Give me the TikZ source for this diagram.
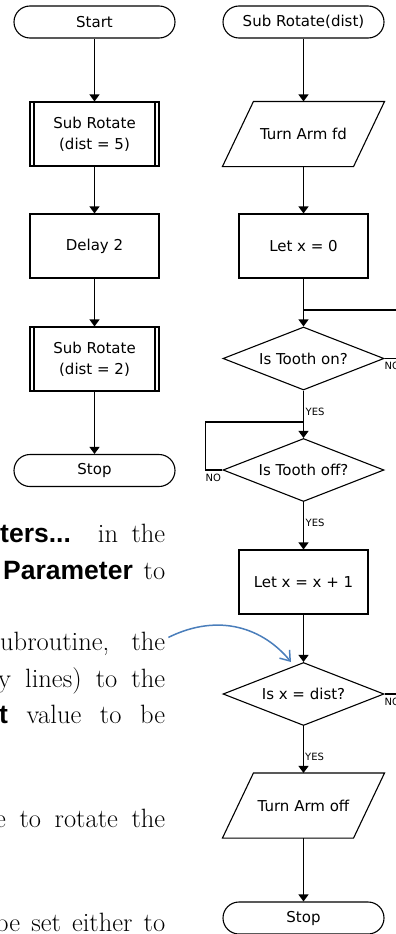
\documentclass[tikz,border=0pt]{standalone}
\usepackage{fontspec}
\usepackage{tikz}
\usetikzlibrary{arrows.meta, shapes.geometric}
\usepackage{xcolor}
\newfontfamily\chartfont{DejaVu Sans}
\newfontfamily\headsans{Liberation Sans}
\definecolor{noteblue}{RGB}{74,126,187}
\tikzset{
  chart/.style  ={font=\chartfont\fontsize{15}{21}\selectfont, line width=1.1pt,
                  inner sep=0pt, align=center},
  term/.style   ={chart, draw, rectangle, rounded corners=16pt,
                  minimum width=161pt, minimum height=32pt},
  proc/.style   ={chart, draw, rectangle, minimum width=129pt, minimum height=64pt},
  subproc/.style={proc, path picture={
                  \draw[line width=1.1pt]
                    ([xshift=4pt]path picture bounding box.north west) --
                    ([xshift=4pt]path picture bounding box.south west)
                    ([xshift=-4pt]path picture bounding box.north east) --
                    ([xshift=-4pt]path picture bounding box.south east);}},
  % parallelogram: body 130 wide, slanted 31 over its height
  io/.style     ={chart, rectangle, minimum width=130pt, minimum height=64pt,
                  append after command={\pgfextra{
                  \draw[line width=1.1pt]
                    ([xshift=-15.5pt]\tikzlastnode.south west) --
                    ([xshift=15.5pt]\tikzlastnode.north west) --
                    ([xshift=15.5pt]\tikzlastnode.north east) --
                    ([xshift=-15.5pt]\tikzlastnode.south east) -- cycle;}}},
  dec/.style    ={chart, draw, diamond, aspect=2.55,
                  minimum width=161pt, minimum height=63pt},
  flow/.style   ={-{Triangle[length=7pt, width=10pt]}, line width=1.1pt},
  wire/.style   ={line width=1.1pt},
  yn/.style     ={font=\chartfont\fontsize{10}{12}\selectfont, inner sep=0pt,
                  anchor=west},
  body/.style   ={font=\fontsize{26.5}{32}\selectfont, inner sep=0pt,
                  anchor=base west},
  note/.style   ={-{Straight Barb[length=9pt, width=13pt]}, line width=1.5pt,
                  noteblue},
}
\newcommand{\kwd}[1]{{\headsans\bfseries\fontsize{26.5}{32}\selectfont #1}}

\begin{document}
\begin{tikzpicture}[x=1pt, y=-1pt]
  \useasboundingbox (0,0) rectangle (396,934);
  % main program
  \node[term]    (start)  at (94.5,22)    {Start};
  \node[subproc] (sub5)   at (94.5,134)   {Sub Rotate\\(dist = 5)};
  \node[proc]    (delay)  at (94.5,246)   {Delay 2};
  \node[subproc] (sub2)   at (94.5,359)   {Sub Rotate\\(dist = 2)};
  \node[term]    (stopA)  at (94.5,470.5) {Stop};
  \draw[flow] (start) -- (sub5);
  \draw[flow] (sub5) -- (delay);
  \draw[flow] (delay) -- (sub2);
  \draw[flow] (sub2) -- (stopA);

  % subroutine
  \node[term]  (subr)     at (303.5,22)    {Sub Rotate(dist)};
  \node[io]    (armfd)    at (303.5,134)   {Turn Arm fd};
  \node[proc]  (xzero)    at (303.5,246)   {Let x = 0};
  \node[dec]   (toothon)  at (303.5,358.5) {Is Tooth on?};
  \node[dec]   (toothoff) at (303.5,470)   {Is Tooth off?};
  \node[proc]  (xinc)     at (303.5,582)   {Let x = x + 1};
  \node[dec]   (xdist)    at (303.5,694)   {Is x = dist?};
  \node[io]    (armoff)   at (303.5,805.5) {Turn Arm off};
  \node[term]  (stopB)    at (303.5,918)   {Stop};

  \coordinate (onjoin)   at (303.5,310);
  \coordinate (loopin)   at (396,310);
  \coordinate (onexit)   at (396,358.5);
  \coordinate (offjoin)  at (303.5,422);
  \coordinate (distexit) at (396,694);

  \draw[flow] (subr) -- (armfd);
  \draw[flow] (armfd) -- (xzero);
  \draw[flow] (xzero) -- (toothon);
  \draw[wire] (loopin) -- (onjoin);
  \draw[wire] (toothon.east) -- (onexit);
  \draw[flow] (toothon) -- (toothoff);
  \draw[wire] (toothoff.west) -- ++(-17,0) |- (offjoin);
  \draw[flow] (toothoff) -- (xinc);
  \draw[flow] (xinc) -- (xdist);
  \draw[wire] (xdist.east) -- (distexit);
  \draw[flow] (xdist) -- (armoff);
  \draw[flow] (armoff) -- (stopB);

  \node[yn] (noA)  at (384.5,366)   {NO};
  \node[yn] (yesA) at (305.5,411.5) {YES};
  \node[yn] (noB)  at (205.5,478)   {NO};
  \node[yn] (yesB) at (305.5,523)   {YES};
  \node[yn] (noC)  at (384.5,702)   {NO};
  \node[yn] (yesC) at (305,757)     {YES};

  % text column, cut at the left edge
  \node[body] (t1) at (0,542)  {\makebox[165pt][s]{\kwd{ters...} in the}};
  \node[body] (t2) at (3,579)  {\makebox[162pt][s]{\kwd{Parameter} to}};
  \node[body] (t3) at (0,650)  {\makebox[165pt][s]{ubroutine, the}};
  \node[body] (t4) at (-2,687) {\makebox[167pt][s]{y lines) to the}};
  \node[body] (t5) at (-1,723) {\makebox[166pt][s]{\kwd{t} value to be}};
  \node[body] (t6) at (-5,827) {\makebox[170pt][s]{e to rotate the}};
  \node[body] (t7) at (-5,931) {\makebox[170pt][s]{be set either to}};

  % pointer to the decision
  \coordinate (tip) at (291,662);
  \draw[note] ([shift={(3,-6)}]t3.east) .. controls (220,612) and (264,629) .. (tip);
\end{tikzpicture}
\end{document}
